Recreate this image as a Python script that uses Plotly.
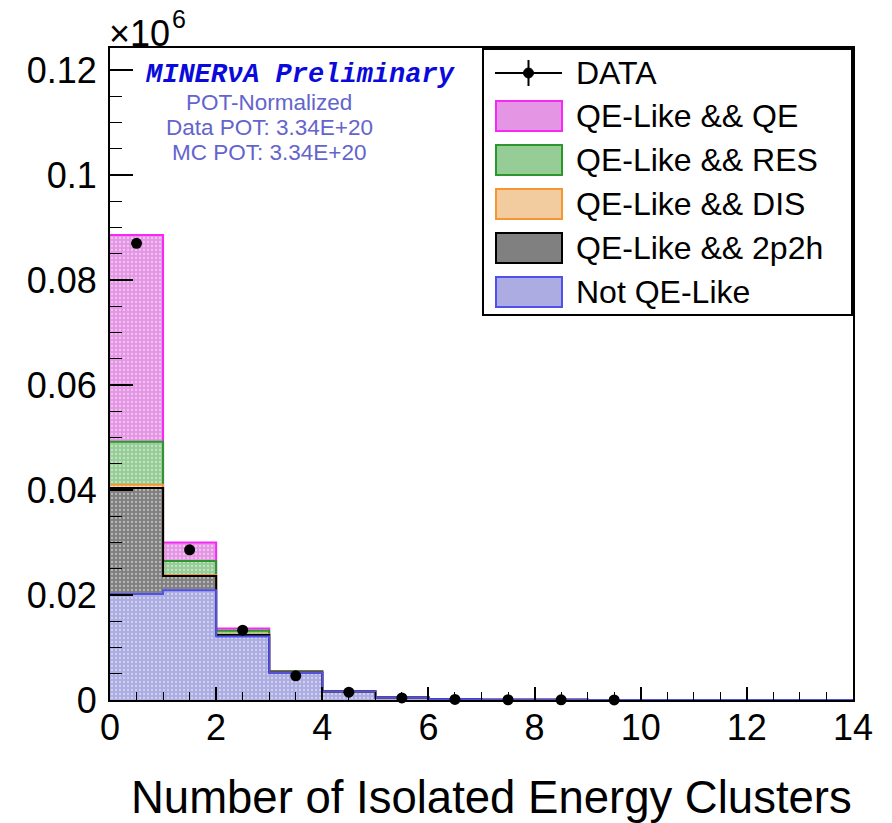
import plotly.graph_objects as go
import numpy as np

# ---------------- data (values shown in units of 10^6) ----------------
bin_edges = list(range(15))
bin_centers = [e + 0.5 for e in range(14)]

not_qe_like = [0.0202, 0.0209, 0.0121, 0.0052, 0.0016, 0.0005, 0.00012, 0.00006, 0.00003, 0.00002, 0.00001, 0.00001, 0.0, 0.0]
qe_like_2p2h = [0.0202, 0.0027, 0.0003, 0.00005, 0.00002, 0.0, 0.0, 0.0, 0.0, 0.0, 0.0, 0.0, 0.0, 0.0]
qe_like_dis = [0.0006, 0.0002, 0.0001, 0.00002, 0.0, 0.0, 0.0, 0.0, 0.0, 0.0, 0.0, 0.0, 0.0, 0.0]
qe_like_res = [0.0082, 0.0027, 0.0007, 0.0002, 0.00003, 0.00001, 0.0, 0.0, 0.0, 0.0, 0.0, 0.0, 0.0, 0.0]
qe_like_qe = [0.0394, 0.0035, 0.0004, 0.00005, 0.00001, 0.0, 0.0, 0.0, 0.0, 0.0, 0.0, 0.0, 0.0, 0.0]

data_x = [0.5, 1.5, 2.5, 3.5, 4.5, 5.5, 6.5, 7.5, 8.5, 9.5]
data_y = [0.0870, 0.0286, 0.0133, 0.0046, 0.0015, 0.0004, 0.0001, 0.00005, 0.00003, 0.00002]

series_names = ["Not QE-Like", "QE-Like && 2p2h", "QE-Like && DIS", "QE-Like && RES", "QE-Like && QE"]
series_values = [not_qe_like, qe_like_2p2h, qe_like_dis, qe_like_res, qe_like_qe]

y_ticks = [0, 0.02, 0.04, 0.06, 0.08, 0.1, 0.12]
x_ticks = [0, 2, 4, 6, 8, 10, 12, 14]

x_title = "Number of Isolated Energy Clusters"

# ---------------- styles ----------------
fill_colors = {
    "Not QE-Like": "rgb(172,172,226)",
    "QE-Like && 2p2h": "rgb(128,128,128)",
    "QE-Like && DIS": "rgb(242,204,158)",
    "QE-Like && RES": "rgb(150,204,150)",
    "QE-Like && QE": "rgb(228,150,228)",
}
line_colors = {
    "Not QE-Like": "rgb(80,80,235)",
    "QE-Like && 2p2h": "rgb(0,0,0)",
    "QE-Like && DIS": "rgb(245,150,50)",
    "QE-Like && RES": "rgb(45,150,45)",
    "QE-Like && QE": "rgb(245,40,245)",
}
FONT = "Liberation Sans, Arial, Helvetica, sans-serif"

W, H = 892, 823
L, R, T, B = 110, 853, 48, 700


def px(xp):
    return (xp - L) / (R - L)


def py(yp):
    return (B - yp) / (B - T)


fig = go.Figure()

# stacked filled bars
for name, vals in zip(series_names, series_values):
    fig.add_trace(go.Bar(
        x=bin_centers, y=vals, width=1.0, name=name, showlegend=False,
        marker=dict(
            color=fill_colors[name], line=dict(width=0),
            pattern=dict(shape=".", fgcolor="rgba(255,255,255,0.9)",
                         bgcolor=fill_colors[name], size=4, solidity=0.25),
        ),
    ))

# step outlines of cumulative stacks (top first, bottom drawn last)
cum = np.cumsum(np.array(series_values), axis=0)
for i in reversed(range(len(series_names))):
    name = series_names[i]
    yv = list(cum[i]) + [cum[i][-1]]
    fig.add_trace(go.Scatter(
        x=bin_edges, y=yv, mode="lines", line=dict(shape="hv", color=line_colors[name], width=2),
        showlegend=False, hoverinfo="skip",
    ))

# data points
fig.add_trace(go.Scatter(
    x=data_x, y=data_y, mode="markers", name="DATA", showlegend=False,
    marker=dict(color="black", size=11), cliponaxis=False,
))

fig.update_layout(
    width=W, height=H,
    margin=dict(l=L, r=W - R, t=T, b=H - B, pad=0),
    barmode="stack", bargap=0,
    plot_bgcolor="white", paper_bgcolor="white",
    font=dict(family=FONT, color="black"),
    showlegend=False,
)

fig.update_xaxes(
    range=[0, 14], tickvals=x_ticks, ticktext=[str(v) for v in x_ticks],
    ticks="inside", ticklen=13, tickwidth=1.5, tickcolor="black",
    minor=dict(dtick=0.5, ticks="inside", ticklen=8, tickwidth=1.2, tickcolor="black"),
    showline=True, linecolor="black", linewidth=2, mirror=True,
    showgrid=False, zeroline=False,
    tickfont=dict(size=36, family=FONT), ticklabelstandoff=-5,
)
fig.update_yaxes(
    range=[0, 0.1242], tickvals=y_ticks, ticktext=[("%g" % v) for v in y_ticks],
    ticks="inside", ticklen=23, tickwidth=1.5, tickcolor="black",
    minor=dict(dtick=0.005, ticks="inside", ticklen=12, tickwidth=1.2, tickcolor="black"),
    showline=True, linecolor="black", linewidth=2, mirror=True,
    showgrid=False, zeroline=False,
    tickfont=dict(size=36, family=FONT), ticklabelstandoff=4,
)

# x-axis title
fig.add_annotation(
    x=px(491), y=py(797), xref="paper", yref="paper", xanchor="center", yanchor="middle",
    text=x_title, showarrow=False, font=dict(size=45.5, family=FONT, color="black"),
)

# x10^6 exponent label
fig.add_annotation(
    x=px(107), y=py(33), xref="paper", yref="paper", xanchor="left", yanchor="middle",
    text="×10", showarrow=False, font=dict(size=36, family=FONT, color="black"),
)
fig.add_annotation(
    x=px(170), y=py(19), xref="paper", yref="paper", xanchor="left", yanchor="middle",
    text="6", showarrow=False, font=dict(size=25, family=FONT, color="black"),
)

# MINERvA labels
fig.add_annotation(
    x=px(300), y=py(75), xref="paper", yref="paper", xanchor="center", yanchor="middle",
    text="<b><i>MINERνA Preliminary</i></b>", showarrow=False,
    font=dict(size=27, family="Liberation Mono, Courier New, monospace", color="rgb(10,10,220)"),
)
for txt, yp in [("POT-Normalized", 103), ("Data POT: 3.34E+20", 128), ("MC POT: 3.34E+20", 153)]:
    fig.add_annotation(
        x=px(269), y=py(yp), xref="paper", yref="paper", xanchor="center", yanchor="middle",
        text=txt, showarrow=False, font=dict(size=22.5, family=FONT, color="rgb(100,100,205)"),
    )

# manual legend
fig.add_shape(type="rect", xref="paper", yref="paper",
              x0=px(483), x1=px(852), y0=py(315), y1=py(49),
              line=dict(color="black", width=2), fillcolor="white", layer="above")

legend_rows = [("DATA", 73)] + [(n, yp) for n, yp in zip(
    ["QE-Like && QE", "QE-Like && RES", "QE-Like && DIS", "QE-Like && 2p2h", "Not QE-Like"],
    [116, 160, 204, 248, 292])]

for name, yc in legend_rows:
    if name == "DATA":
        fig.add_shape(type="line", xref="paper", yref="paper", x0=px(495), x1=px(562),
                      y0=py(yc), y1=py(yc), line=dict(color="black", width=2), layer="above")
        fig.add_shape(type="line", xref="paper", yref="paper", x0=px(528.5), x1=px(528.5),
                      y0=py(yc - 13), y1=py(yc + 13), line=dict(color="black", width=2), layer="above")
        fig.add_shape(type="circle", xref="paper", yref="paper", x0=px(523.5), x1=px(533.5),
                      y0=py(yc + 5), y1=py(yc - 5), line=dict(color="black", width=1),
                      fillcolor="black", layer="above")
    else:
        fig.add_shape(type="rect", xref="paper", yref="paper", x0=px(496), x1=px(562),
                      y0=py(yc + 15), y1=py(yc - 15), line=dict(color=line_colors[name], width=2),
                      fillcolor=fill_colors[name], layer="above")
    fig.add_annotation(
        x=px(574), y=py(yc), xref="paper", yref="paper", xanchor="left", yanchor="middle",
        text=name.replace("&", "&amp;"), showarrow=False, font=dict(size=32, family=FONT, color="black"),
    )

fig.write_html("out.html")
